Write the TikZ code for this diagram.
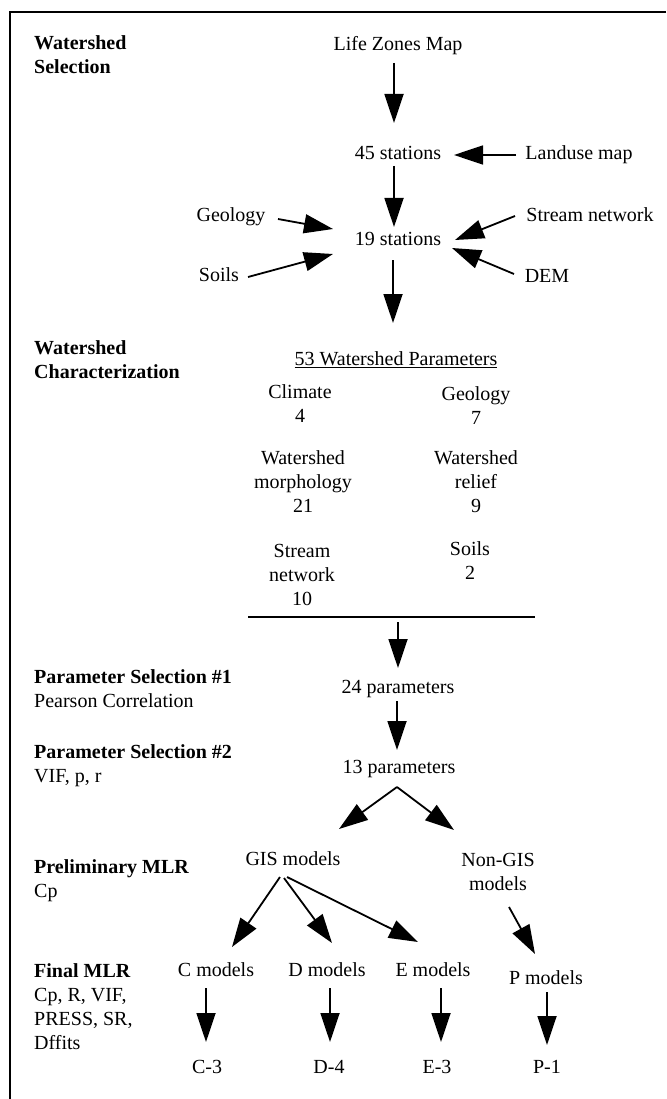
\documentclass[tikz,border=0pt]{standalone}
\usepackage{fontspec}
\setmainfont{Liberation Serif}
\usetikzlibrary{arrows.meta,calc}
\begin{document}
\begin{tikzpicture}[x=1pt,y=-1pt,
  txt/.style={font=\fontsize{20}{24}\selectfont, inner sep=0pt, align=center},
  one/.style={txt, text height=14pt, text depth=4pt},
  lab/.style={font=\fontsize{20}{24}\selectfont, inner sep=0pt, align=left, anchor=north west},
  arr/.style={line width=1.8pt, -{Triangle[length=29pt,width=19pt]}},
  frameline/.style={line width=2pt}]
\useasboundingbox (0,0) rectangle (666,1099);
% frame (top and left edges)
\coordinate (fTL) at (10,12);
\coordinate (fTR) at (666,12);
\coordinate (fBL) at (10,1099);
\draw[frameline] (fTR) -- (fTL) -- (fBL);

% stage labels
\node[lab] (wsel) at (34,35) {\bfseries Watershed\\\bfseries Selection};
\node[lab] (wchar) at (34,340) {\bfseries Watershed\\\bfseries Characterization};
\node[lab] (ps1) at (34,669) {{\bfseries Parameter Selection \#1}\\Pearson Correlation};
\node[lab] (ps2) at (34,744) {{\bfseries Parameter Selection \#2}\\VIF, p, r};
\node[lab] (pmlr) at (34,859) {{\bfseries Preliminary MLR}\\Cp};
\node[lab] (fmlr) at (34,963) {{\bfseries Final MLR}\\Cp, R, VIF,\\PRESS, SR,\\Dffits};

% watershed selection
\node[one] (lz) at (398,46) {Life Zones Map};
\node[one] (s45) at (398,155) {45 stations};
\node[one] (land) at (579,155) {Landuse map};
\node[one] (geo) at (231,217) {Geology};
\node[one] (stream) at (590,217) {Stream network};
\node[one] (s19) at (398,241) {19 stations};
\node[one] (soils) at (219,276) {Soils};
\node[one] (dem) at (547,277) {DEM};

\draw[arr] ($(lz)+(-4,17)$) -- ($(s45)+(-4,-32)$);
\draw[arr] ($(land)+(-63,0)$) -- ($(s45)+(56,0)$);
\draw[arr] ($(s45)+(-4,11)$) -- ($(s19)+(-4,-14)$);
\draw[arr] ($(geo)+(47,2)$) -- ($(s19)+(-65,-12)$);
\draw[arr] ($(stream)+(-75,-1)$) -- ($(s19)+(57,-1)$);
\draw[arr] ($(soils)+(29,1)$) -- ($(s19)+(-65,13)$);
\draw[arr] ($(dem)+(-33,-3)$) -- ($(s19)+(54,7)$);

% watershed characterization
\node[one] (params) at (396,360) {\underline{53 Watershed Parameters}};
\draw[arr] ($(s19)+(-5,19)$) -- ($(params)+(-3,-37)$);
\node[txt] (clim) at (300,403.5) {Climate\\4};
\node[txt] (geo2) at (476,406) {Geology\\7};
\node[txt] (wmor) at (303,482) {Watershed\\morphology\\21};
\node[txt] (wrel) at (476,482) {Watershed\\relief\\9};
\node[txt] (snet) at (302,575) {Stream\\network\\10};
\node[txt] (soil2) at (470,560.5) {Soils\\2};
\coordinate (hlL) at (248,617);
\coordinate (hlR) at (535,617);
\coordinate (hlM) at (398,622);
\draw[line width=2pt] (hlL) -- (hlR);

% parameter selection
\node[one] (p24) at (398,688) {24 parameters};
\node[one] (p13) at (399,768) {13 parameters};
\draw[arr] (hlM) -- ($(p24)+(0,-20)$);
\draw[arr] ($(p24)+(-1,13)$) -- ($(p13)+(-2,-18)$);

% models
\node[one] (gis) at (293,860) {GIS models};
\node[txt] (ngis) at (498,872) {Non-GIS\\models};
\draw[arr] ($(p13)+(-2,19)$) -- ($(gis)+(46,-31)$);
\draw[arr] ($(p13)+(-2,19)$) -- ($(ngis)+(-44,-42)$);

\node[one] (cm) at (216,971) {C models};
\node[one] (dm) at (327,971) {D models};
\node[one] (em) at (433,971) {E models};
\node[one] (pm) at (546,979) {P models};
\draw[arr] ($(gis)+(-13,17)$) -- ($(cm)+(16,-24)$);
\draw[arr] ($(gis)+(-9,18)$) -- ($(dm)+(5,-28)$);
\draw[arr] ($(gis)+(-6,17)$) -- ($(em)+(-15,-29)$);
\draw[arr] ($(ngis)+(11,35)$) -- ($(pm)+(-11,-25)$);

\node[one] (c3) at (207,1068) {C-3};
\node[one] (d4) at (329,1068) {D-4};
\node[one] (e3) at (437,1068) {E-3};
\node[one] (p1) at (547,1068) {P-1};
\draw[arr] ($(cm)+(-10,17)$) -- ($(c3)+(-1,-26)$);
\draw[arr] ($(dm)+(3,17)$) -- ($(d4)+(1,-26)$);
\draw[arr] ($(em)+(8,17)$) -- ($(e3)+(4,-26)$);
\draw[arr] ($(pm)+(1,13)$) -- ($(p1)+(0,-23)$);
\end{tikzpicture}
\end{document}
